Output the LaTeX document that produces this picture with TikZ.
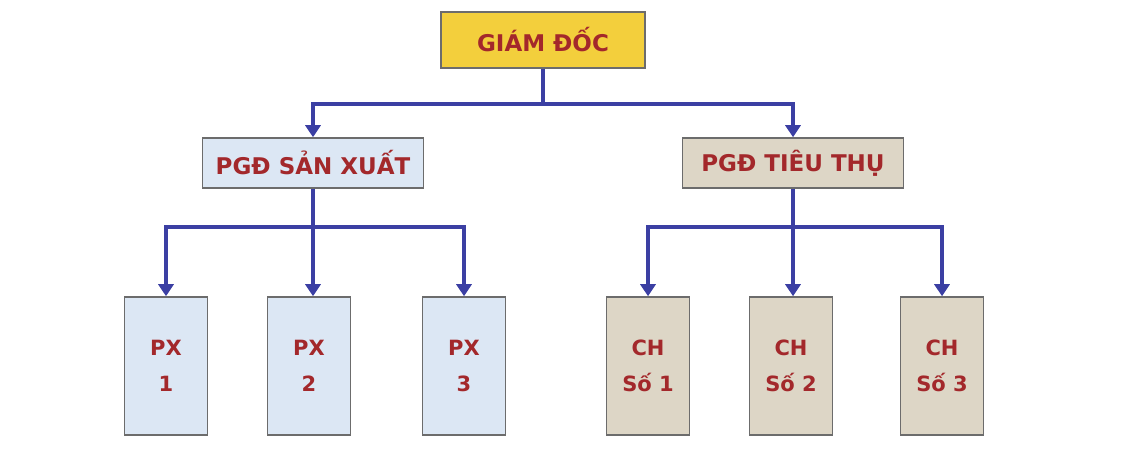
\documentclass[tikz,border=0pt]{standalone}
\usepackage{fontspec}
\setmainfont{DejaVu Sans}
\usetikzlibrary{arrows.meta,positioning}
\definecolor{linkblue}{HTML}{3B3FA3}
\definecolor{textred}{HTML}{A3282B}
\definecolor{boxyellow}{HTML}{F3CF3C}
\definecolor{boxblue}{HTML}{DCE7F4}
\definecolor{boxbeige}{HTML}{DDD6C6}
\tikzset{
  box/.style={rectangle,draw=gray!85!black,line width=1.5pt,inner sep=0pt,
    text=textred,font=\fontsize{23}{28}\selectfont\bfseries,align=center},
  top/.style={box,fill=boxyellow,minimum width=204pt,minimum height=56pt},
  mid/.style={box,minimum width=221pt,minimum height=50pt},
  leaf/.style={box,minimum width=83pt,minimum height=138pt,
    font=\fontsize{21}{36}\selectfont\bfseries},
  link/.style={draw=linkblue,line width=4pt,
    -{Triangle[width=15pt,length=12pt]}},
}

\begin{document}
\begin{tikzpicture}[x=1pt,y=-1pt]
  \useasboundingbox (0,0) rectangle (1125,454);

  \node[top] (gd) at (543,40) {GIÁM ĐỐC};

  \node[mid,fill=boxblue]  (sx) at (313,163) {PGĐ SẢN XUẤT};
  \node[mid,fill=boxbeige] (tt) at (793,163) {PGĐ TIÊU THỤ};

  \node[leaf,fill=boxblue] (px1) at (166,366) {PX\\1};
  \node[leaf,fill=boxblue] (px2) at (309,366) {PX\\2};
  \node[leaf,fill=boxblue] (px3) at (464,366) {PX\\3};

  \node[leaf,fill=boxbeige] (ch1) at (648,366) {CH\\Số 1};
  \node[leaf,fill=boxbeige] (ch2) at (791,366) {CH\\Số 2};
  \node[leaf,fill=boxbeige] (ch3) at (942,366) {CH\\Số 3};

  % giam doc -> pho giam doc
  \draw[link] (gd.south) -- ++(0,35) -| (sx.north);
  \draw[link] (gd.south) -- ++(0,35) -| (tt.north);

  % san xuat -> phan xuong
  \draw[link] (sx.south) -- ++(0,38) -| (px1.north);
  \draw[link] (sx.south) -- ++(0,38) -| (px3.north);
  \draw[link] (sx.south) -- (sx.south |- px2.north);

  % tieu thu -> cua hang
  \draw[link] (tt.south) -- ++(0,38) -| (ch1.north);
  \draw[link] (tt.south) -- ++(0,38) -| (ch3.north);
  \draw[link] (tt.south) -- (tt.south |- ch2.north);
\end{tikzpicture}
\end{document}
